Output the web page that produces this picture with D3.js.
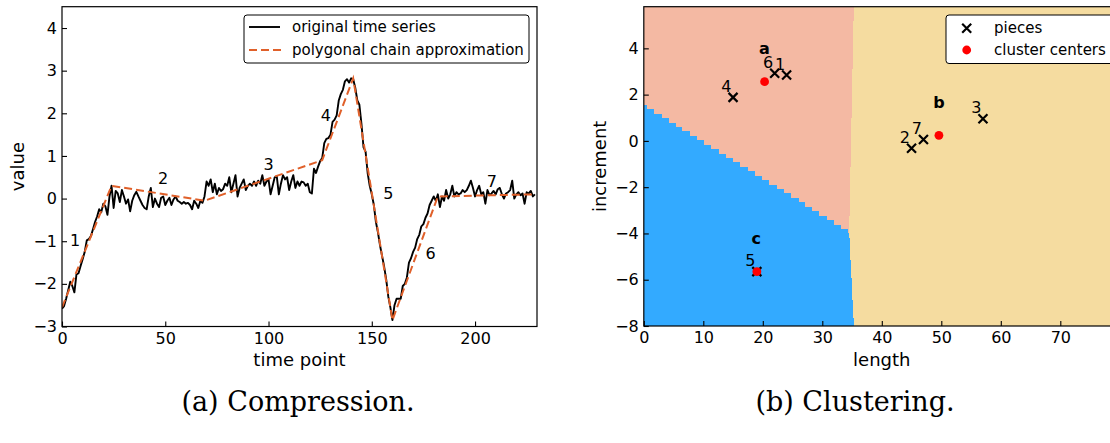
<!DOCTYPE html>
<html><head><meta charset="utf-8">
<script src="https://cdn.jsdelivr.net/npm/d3@7"></script>
<style>
body{margin:0;background:#fff;overflow:hidden}
text{fill:#000}
</style>
</head><body>
<svg id="c" width="1110" height="443" font-family="DejaVu Sans"></svg>
<script>
// ---------- data: (a) compression ----------
const seriesValues = [
-2.58,-2.52,-2.35,-2.15,-1.95,-2.05,-2.2,-1.78,-1.75,-1.58,
-1.42,-1.25,-0.98,-0.95,-0.88,-0.72,-0.55,-0.42,-0.25,-0.32,
-0.12,-0.18,-0.38,0.05,0.3,-0.22,0.18,0.12,-0.08,0.2,
0.05,-0.12,-0.02,-0.3,-0.05,0.08,0.16,0.05,-0.05,-0.15,
-0.22,-0.25,0.05,0.25,-0.2,0.0,-0.12,-0.2,0.02,0.05,
-0.15,-0.05,0.02,-0.15,-0.02,0.05,-0.05,-0.08,-0.12,-0.08,
-0.12,-0.1,-0.15,-0.25,-0.05,-0.12,-0.22,-0.05,-0.1,0.05,
0.4,0.3,0.45,0.15,0.35,0.1,0.25,0.18,0.22,0.35,
0.3,0.5,0.15,0.35,0.55,0.05,0.25,0.35,0.45,0.2,
0.3,0.35,0.3,0.4,0.3,0.42,0.35,0.55,0.3,0.4,
0.45,0.1,0.3,0.5,0.52,0.1,0.35,0.55,0.45,0.5,
0.2,0.4,0.55,0.25,0.4,0.3,0.4,0.38,0.3,0.35,
0.15,0.12,0.7,0.6,0.75,0.88,0.95,1.3,1.4,1.42,
1.5,1.8,1.85,1.95,2.3,2.45,2.55,2.75,2.8,2.72,
2.82,2.8,2.6,2.3,2.2,1.75,1.2,1.1,0.6,0.3,
0.1,-0.15,-0.55,-0.8,-1.1,-1.35,-1.6,-1.9,-2.3,-2.55,
-2.85,-2.5,-2.35,-2.35,-2.35,-2.05,-2.0,-1.85,-1.5,-1.4,
-1.25,-1.15,-0.95,-0.85,-0.65,-0.6,-0.45,-0.35,-0.15,-0.05,
0.05,-0.05,0.1,-0.2,0.05,-0.05,0.2,0.0,0.1,0.3,
0.05,0.15,0.1,0.12,0.2,0.15,0.2,0.3,0.42,0.25,
0.05,0.2,0.3,0.1,0.15,-0.12,0.2,0.08,0.12,0.18,
0.1,0.22,0.25,0.1,0.0,0.12,0.15,0.2,0.42,0.0,
0.1,0.15,0.08,0.12,-0.12,0.15,0.12,0.18,0.05,0.1
];
const chainTimes  = [0, 24, 69, 126, 141, 160, 182, 229];
const chainValues = [-2.55, 0.3, -0.05, 0.9, 2.82, -2.85, 0.05, 0.1];
const pieceIds = ["1","2","3","4","5","6","7"];
const pieceLabelTimes  = [6.4, 49.0, 100.0, 127.8, 158.0, 178.5, 208.1];
const pieceLabelValues = [-0.99, 0.46, 0.79, 1.96, 0.13, -1.28, 0.40];
const leftXTicks = [0, 50, 100, 150, 200];
const leftYTicks = [-3, -2, -1, 0, 1, 2, 3, 4];
const leftLegend = ["original time series", "polygonal chain approximation"];

// ---------- data: (b) clustering ----------
const pieceLengths    = [24, 45, 57, 15, 19, 22, 47];
const pieceIncrements = [2.85, -0.32, 0.96, 1.88, -5.65, 2.92, 0.06];
const clusterNames = ["a", "b", "c"];
const centerLengths    = [20.3, 49.6, 19.0];
const centerIncrements = [2.56, 0.24, -5.65];
const clusterLabelLengths    = [20.25, 49.6, 18.9];
const clusterLabelIncrements = [4.0, 1.67, -4.23];
const clusterColors = ["#f4b9a3", "#f5dca0", "#33aaff"];
const rightXTicks = [0, 10, 20, 30, 40, 50, 60, 70];
const rightYTicks = [-8, -6, -4, -2, 0, 2, 4];
const rightLegend = ["pieces", "cluster centers"];
const captions = ["(a) Compression.", "(b) Clustering."];

// ---------- drawing ----------
const svg = d3.select("#c");
const fmt = d3.format("");

function frame(g, x, y, xt, yt) {
  const ax = g.append("g").attr("transform", `translate(0,${y.range()[0]})`)
    .call(d3.axisBottom(x).tickValues(xt).tickFormat(fmt).tickSizeInner(-5).tickSizeOuter(0).tickPadding(6));
  const ay = g.append("g").attr("transform", `translate(${x.range()[0]},0)`)
    .call(d3.axisLeft(y).tickValues(yt).tickFormat(fmt).tickSizeInner(-5).tickSizeOuter(0).tickPadding(5));
  [ax, ay].forEach(a => {
    a.attr("font-family", null).attr("font-size", 16);
    a.select(".domain").remove();
    a.selectAll(".tick line").attr("stroke", "#000").attr("stroke-width", 1.1);
    a.selectAll(".tick text").attr("fill", "#000");
  });
  g.append("rect")
    .attr("x", x.range()[0]).attr("y", y.range()[1])
    .attr("width", x.range()[1] - x.range()[0]).attr("height", y.range()[0] - y.range()[1])
    .attr("fill", "none").attr("stroke", "#000").attr("stroke-width", 1.2);
}

// ---- left chart ----
const xL = d3.scaleLinear().domain([0, 230]).range([62, 537]);
const yL = d3.scaleLinear().domain([-3, 4.5]).range([326.5, 6.7]);
const gL = svg.append("g");
svg.append("clipPath").attr("id", "clipL").append("rect")
  .attr("x", 62).attr("y", 6.7).attr("width", 475).attr("height", 319.8);

const line = d3.line().x(d => xL(d[0])).y(d => yL(d[1]));
gL.append("path").attr("clip-path", "url(#clipL)")
  .datum(seriesValues.map((v, i) => [i, v]))
  .attr("d", line).attr("fill", "none").attr("stroke", "#000").attr("stroke-width", 1.9)
  .attr("stroke-linejoin", "round");
gL.append("path").attr("clip-path", "url(#clipL)")
  .datum(chainTimes.map((t, i) => [t, chainValues[i]]))
  .attr("d", line).attr("fill", "none").attr("stroke", "#e0602a").attr("stroke-width", 2)
  .attr("stroke-dasharray", "8,4");

gL.selectAll("text.pl").data(pieceIds).join("text").attr("class", "pl")
  .attr("x", (d, i) => xL(pieceLabelTimes[i])).attr("y", (d, i) => yL(pieceLabelValues[i]))
  .attr("text-anchor", "middle").attr("dominant-baseline", "central").attr("font-size", 16)
  .text(d => d);

frame(gL, xL, yL, leftXTicks, leftYTicks);

// legend left
const lgL = gL.append("g");
lgL.append("rect").attr("x", 244).attr("y", 15).attr("width", 285).attr("height", 48)
  .attr("rx", 3).attr("fill", "#fff").attr("stroke", "#000").attr("stroke-width", 1);
lgL.append("line").attr("x1", 249).attr("x2", 280).attr("y1", 27).attr("y2", 27)
  .attr("stroke", "#000").attr("stroke-width", 1.9);
lgL.append("line").attr("x1", 249).attr("x2", 281).attr("y1", 50).attr("y2", 50)
  .attr("stroke", "#e0602a").attr("stroke-width", 2).attr("stroke-dasharray", "8,4");
lgL.selectAll("text").data(leftLegend).join("text")
  .attr("x", 292).attr("y", (d, i) => i ? 50 : 27).attr("dominant-baseline", "central")
  .attr("font-size", 15).text(d => d);

gL.append("text").attr("x", xL(115)).attr("y", 366).attr("text-anchor", "middle")
  .attr("font-size", 18).text("time point");
gL.append("text").attr("transform", `translate(24,${(6.7 + 326.5) / 2}) rotate(-90)`)
  .attr("text-anchor", "middle").attr("font-size", 18).text("value");

// ---- right chart ----
const xR = d3.scaleLinear().domain([0, 80]).range([643.8, 1119.8]);
const yR = d3.scaleLinear().domain([-8, 5.8]).range([326, 6.7]);
const gR = svg.append("g");
svg.append("clipPath").attr("id", "clipR").append("rect")
  .attr("x", 643.8).attr("y", 6.7).attr("width", 476).attr("height", 319.3);

// decision regions: fine in length, coarse rows in increment
const gridNx = 480, gridNy = 72;
const [x0, x1] = xR.domain(), [y0, y1] = yR.domain();
const hx = (x1 - x0) / gridNx, hy = (y1 - y0) / gridNy;
function nearest(px, py) {
  let best = 0, bd = Infinity;
  centerLengths.forEach((cx, k) => {
    const d = (px - cx) ** 2 + (py - centerIncrements[k]) ** 2;
    if (d < bd) { bd = d; best = k; }
  });
  return best;
}
const cells = [];
for (let j = 0; j < gridNy; j++) {
  const cy = y0 + (j + 0.5) * hy;
  let start = 0, cur = nearest(x0 + 0.5 * hx, cy);
  for (let i = 1; i <= gridNx; i++) {
    const k = i < gridNx ? nearest(x0 + (i + 0.5) * hx, cy) : -1;
    if (k !== cur) {
      cells.push({ j, i0: start, i1: i, k: cur });
      start = i; cur = k;
    }
  }
}
gR.append("g").attr("clip-path", "url(#clipR)").selectAll("rect").data(cells).join("rect")
  .attr("x", d => xR(x0 + d.i0 * hx))
  .attr("width", d => xR(x0 + d.i1 * hx) - xR(x0 + d.i0 * hx) + 0.5)
  .attr("y", d => yR(y0 + (d.j + 1) * hy))
  .attr("height", d => yR(y0 + d.j * hy) - yR(y0 + (d.j + 1) * hy) + 0.5)
  .attr("fill", d => clusterColors[d.k]).attr("shape-rendering", "crispEdges");

function xMark(sel, s) {
  sel.append("path").attr("d", `M${-s},${-s}L${s},${s}M${-s},${s}L${s},${-s}`)
    .attr("stroke", "#000").attr("stroke-width", 2.2).attr("fill", "none");
}
pieceIds.forEach((id, i) => {
  const g = gR.append("g").attr("transform", `translate(${xR(pieceLengths[i])},${yR(pieceIncrements[i])})`);
  xMark(g, 4.5);
});
gR.selectAll("circle.cc").data(clusterNames).join("circle").attr("class", "cc")
  .attr("cx", (d, i) => xR(centerLengths[i])).attr("cy", (d, i) => yR(centerIncrements[i]))
  .attr("r", 4.4).attr("fill", "#ff0000");
gR.selectAll("text.pn").data(pieceIds).join("text").attr("class", "pn")
  .attr("x", (d, i) => xR(pieceLengths[i]) - 6.6).attr("y", (d, i) => yR(pieceIncrements[i]) - 10.8)
  .attr("text-anchor", "middle").attr("dominant-baseline", "central").attr("font-size", 16)
  .text(d => d);
gR.selectAll("text.cn").data(clusterNames).join("text").attr("class", "cn")
  .attr("x", (d, i) => xR(clusterLabelLengths[i])).attr("y", (d, i) => yR(clusterLabelIncrements[i]))
  .attr("text-anchor", "middle").attr("dominant-baseline", "central").attr("font-size", 16)
  .attr("font-weight", "bold").text(d => d);

frame(gR, xR, yR, rightXTicks, rightYTicks);

const lgR = gR.append("g");
lgR.append("rect").attr("x", 946).attr("y", 15).attr("width", 168).attr("height", 48.5)
  .attr("rx", 3).attr("fill", "#fff").attr("stroke", "#000").attr("stroke-width", 1);
xMark(lgR.append("g").attr("transform", "translate(966.7,28.3)"), 4.5);
lgR.append("circle").attr("cx", 966.7).attr("cy", 50).attr("r", 4.4).attr("fill", "#ff0000");
lgR.selectAll("text").data(rightLegend).join("text")
  .attr("x", 994).attr("y", (d, i) => i ? 50 : 28).attr("dominant-baseline", "central")
  .attr("font-size", 15).text(d => d);

gR.append("text").attr("x", xR(40)).attr("y", 366).attr("text-anchor", "middle")
  .attr("font-size", 18).text("length");
gR.append("text").attr("transform", `translate(606,${(6.7 + 326) / 2}) rotate(-90)`)
  .attr("text-anchor", "middle").attr("font-size", 18).text("increment");

// captions
svg.selectAll("text.cap").data(captions).join("text").attr("class", "cap")
  .attr("x", (d, i) => i ? 855 : 298).attr("y", 411).attr("text-anchor", "middle")
  .attr("font-family", "DejaVu Serif").attr("font-size", 27).text(d => d);
</script>
</body></html>
